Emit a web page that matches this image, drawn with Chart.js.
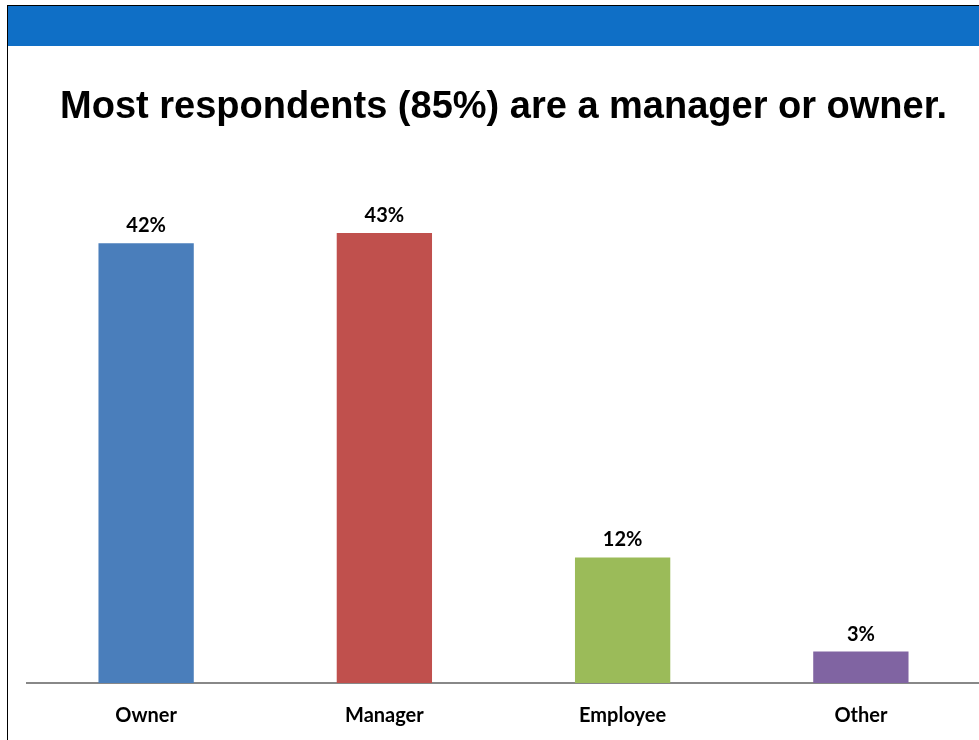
<!DOCTYPE html>
<html>
<head>
<meta charset="utf-8">
<script src="https://cdn.jsdelivr.net/npm/chart.js@4.4.1/dist/chart.umd.min.js"></script>
<style>
  html, body { margin: 0; padding: 0; background: #fff; }
  #frame {
    position: absolute; left: 7px; top: 5px; width: 972px; height: 735px;
    border-left: 1px solid #000; border-top: 1px solid #000;
  }
  #band { position: absolute; left: 0; top: 0; width: 100%; height: 40px; background: #0F6FC6; }
  #wrap { position: absolute; left: 0; top: 40px; width: 972px; height: 695px; }
</style>
</head>
<body>
<div id="frame">
  <div id="band"></div>
  <div id="wrap"><canvas id="roleChart"></canvas></div>
</div>
<script>
const categories = ['Owner', 'Manager', 'Employee', 'Other'];
const shares = [42, 43, 12, 3];
const barColors = ['#4A7EBB', '#C0504D', '#9BBB59', '#8064A2'];
const chartTitle = 'Most respondents (85%) are a manager or owner.';

// Percent labels above each bar
const valueLabels = {
    id: 'valueLabels',
    afterDatasetsDraw(chart) {
        const ctx = chart.ctx;
        const meta = chart.getDatasetMeta(0);
        ctx.save();
        ctx.font = 'bold 20px Lato';
        ctx.fillStyle = '#000';
        ctx.textAlign = 'center';
        ctx.textBaseline = 'alphabetic';
        meta.data.forEach((bar, i) => {
            ctx.fillText(shares[i] + '%', bar.x, bar.y - 11);
        });
        ctx.restore();
    }
};

function initializeRoleChart() {
    const ctx = document.getElementById('roleChart').getContext('2d');
    return new Chart(ctx, {
        type: 'bar',
        data: {
            labels: categories,
            datasets: [{
                data: shares,
                backgroundColor: barColors,
                barPercentage: 0.4,
                categoryPercentage: 1.0
            }]
        },
        options: {
            responsive: true,
            maintainAspectRatio: false,
            animation: false,
            layout: { padding: { left: 19, right: 0, top: 0, bottom: 0 } },
            plugins: {
                legend: { display: false },
                tooltip: { enabled: false },
                title: {
                    display: true,
                    text: chartTitle,
                    color: '#000',
                    font: { family: 'Liberation Sans', size: 38, weight: 'bold' },
                    padding: { top: 39, bottom: 29 }
                }
            },
            scales: {
                x: {
                    grid: { display: false },
                    border: { color: '#888', width: 2 },
                    ticks: {
                        color: '#000',
                        padding: 13,
                        font: { family: 'Lato', size: 20, weight: 'bold' }
                    }
                },
                y: {
                    display: false,
                    min: 0,
                    max: 50
                }
            }
        },
        plugins: [valueLabels]
    });
}

document.addEventListener('DOMContentLoaded', () => {
    initializeRoleChart();
});
</script>
</body>
</html>
